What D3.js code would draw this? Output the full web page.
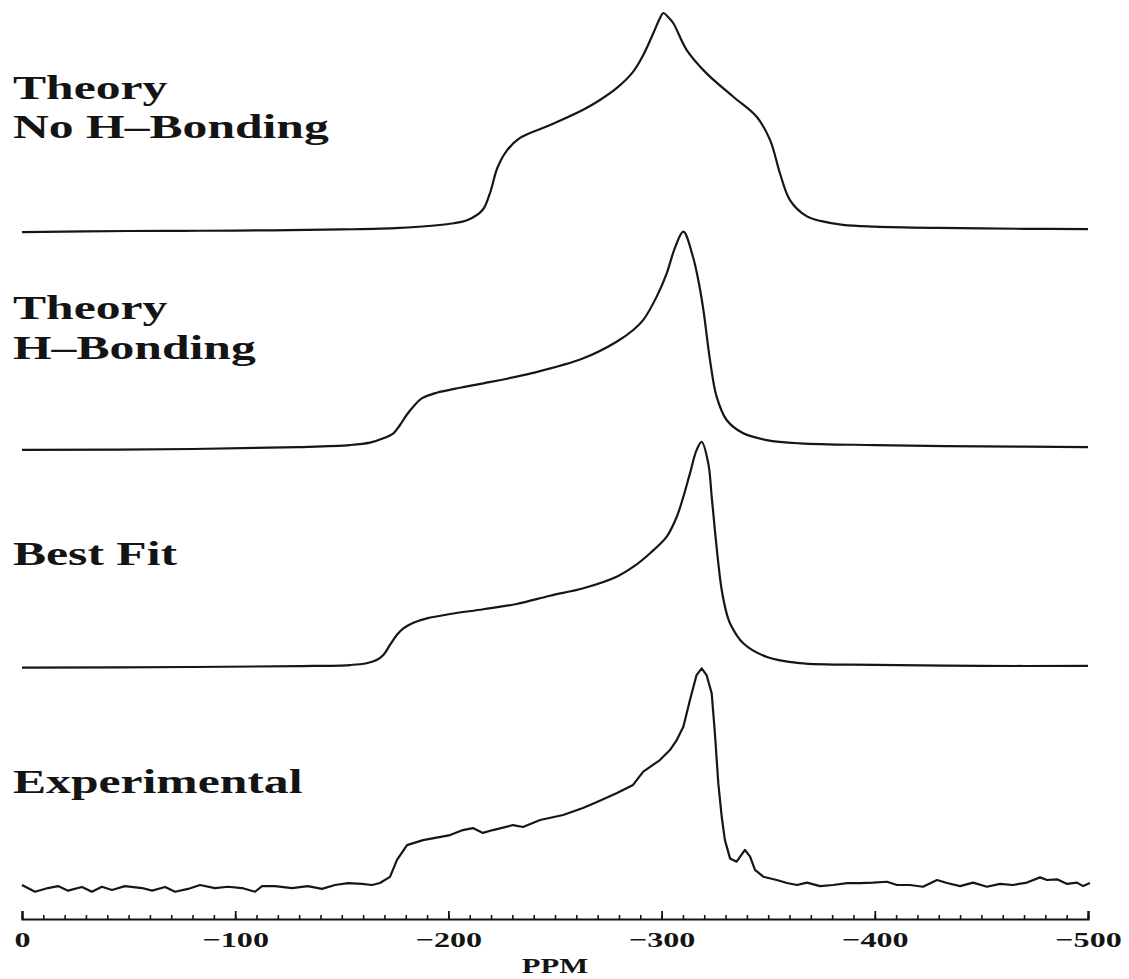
<!DOCTYPE html>
<html>
<head>
<meta charset="utf-8">
<script src="https://cdn.jsdelivr.net/npm/d3@7"></script>
<style>
  html, body { margin: 0; padding: 0; background: #fff; }
  svg { display: block; }
  text { font-family: "Liberation Serif", "Times New Roman", serif; font-weight: bold; fill: #141414; }
</style>
</head>
<body>
<svg id="chart" width="1129" height="979"></svg>
<script>
// spectra: [ppm, intensity], intensity ~100 at peak
const noHBond = [
  [0, -0.5], [-50, 0], [-100, 0.2], [-150, 0.7], [-177, 1.4], [-200, 3.2], [-209, 5],
  [-216, 9.6], [-219.5, 17.4], [-223, 29], [-227.5, 37], [-233.6, 42.7], [-247.7, 48.6],
  [-263, 55.5], [-271.1, 60.1], [-278.9, 65.5], [-286.7, 73.1], [-291.4, 80.7], [-296.1, 90.7],
  [-299.2, 97.6], [-300.8, 100], [-303, 98.2], [-305.5, 95.3], [-311.8, 83], [-321.1, 72.3],
  [-333.6, 61.6], [-344.6, 52.4], [-350.9, 41.7], [-355.5, 26.5], [-360.2, 14.2], [-368, 6.8],
  [-375, 4.5], [-385, 2.8], [-400, 2.0], [-430, 1.4], [-470, 1.0], [-500, 0.9]
]

const hBond = [
  [0, -0.4], [-80, 0], [-130, 0.9], [-153.8, 1.8], [-163.2, 2.9], [-169.5, 4.9], [-174.2, 7.2],
  [-177.3, 11], [-180.4, 15.6], [-183.5, 19.4], [-187.5, 23.2], [-194.5, 25.8], [-205.4, 28.1],
  [-216.4, 30.1], [-239.7, 34.9], [-263.3, 41.6], [-278.9, 49.2], [-286.7, 54.6], [-291.4, 59.2],
  [-297.7, 69.9], [-302.4, 80.6], [-306.3, 92.4], [-310.2, 99.7], [-314.7, 88.2], [-317.2, 77.5],
  [-319.6, 63.8], [-322.7, 40.8], [-325.8, 24], [-330.5, 13.3], [-338.3, 7.2], [-349.3, 4.1],
  [-364.9, 2.6], [-400, 1.8], [-450, 1.2], [-500, 0.9]
]

const bestFit = [
  [0, -0.3], [-80, 0], [-130, 0.4], [-153.8, 0.9], [-161.6, 1.7], [-166.3, 3.2], [-169.5, 5.5],
  [-172.6, 10.1], [-175.8, 14.7], [-178.9, 17.7], [-183.6, 20.3], [-189.9, 22.3], [-200.8, 24.3],
  [-216.4, 26.5], [-232, 28.9], [-247.7, 32.7], [-263.3, 36.1], [-278.9, 41.4], [-286.8, 46],
  [-294.6, 52.2], [-302.4, 59.8], [-307.1, 68.9], [-310.2, 78.1], [-313.3, 88.8], [-316.4, 99.5],
  [-318.8, 103.3], [-321.9, 93.4], [-323.5, 78.1], [-325, 62.8], [-326.6, 47.6], [-328.2, 35.3],
  [-330.5, 24.6], [-332.1, 20], [-338.3, 10.9], [-349.4, 4.6], [-364.8, 1.8], [-400, 1.0],
  [-450, 0.5], [-500, 0.5]
]

const experimental = [
  [0, 0], [-6.1, -3.1], [-12.2, -1.4], [-16.9, -0.5], [-21.6, -2.6], [-28.1, -0.9], [-32.8, -3.1],
  [-37.5, -0.8], [-42.2, -2.3], [-48.3, -0.5], [-56.3, -1.4], [-61, -2.6], [-67.1, -0.9],
  [-71.8, -3.1], [-77.9, -1.8], [-83.5, 0], [-90.5, -1.4], [-96.6, -0.8], [-103.2, -1.4],
  [-109.3, -3.1], [-112.6, -0.5], [-118.7, -0.5], [-126.6, -1.4], [-134.1, -0.5], [-140.7, -1.8],
  [-146.8, 0], [-152.9, 0.9], [-159.5, 0.5], [-164.2, 0], [-167.9, 0.9], [-172.6, 3.7],
  [-175.9, 11.5], [-180.6, 18.3], [-188.1, 20.6], [-200.8, 22.9], [-206.8, 25.2], [-211.5, 26.1],
  [-216.2, 23.9], [-220.9, 25.2], [-230.3, 27.5], [-235, 26.6], [-243, 29.8], [-253.8, 32.1],
  [-263.1, 35.3], [-269.7, 38.1], [-279.1, 42.2], [-286.6, 45.9], [-291.4, 52], [-299.2, 57.3],
  [-303.9, 61.9], [-307.1, 66.5], [-310.2, 72.6], [-313.3, 84.9], [-316.4, 96.3], [-318.8, 99.4],
  [-321.1, 96.3], [-323.5, 87.9], [-325, 69.6], [-326.6, 46.6], [-328.2, 31.3], [-329.7, 20.6],
  [-332.1, 12.2], [-335.2, 10.7], [-339.1, 16.1], [-341.5, 13], [-343.8, 6.9], [-347.7, 3.8],
  [-354, 2.3], [-358.8, 0.9], [-363.5, 0], [-368.2, 1.1],
  [-374.3, -0.5], [-380.4, 0], [-387, 0.9], [-393.1, 0.9], [-399.2, 1.1], [-405.7, 1.5],
  [-410.4, 0], [-416.5, 0], [-422.6, -0.8], [-429.2, 2.3], [-433.9, 0.9], [-440, -0.5],
  [-446.1, 1.1], [-452.6, -0.8], [-458.7, 0.5], [-464.8, 0], [-471.4, 1.1], [-477.5, 3.5],
  [-480.8, 2.3], [-485.5, 2.6], [-490.2, 0.5], [-494.8, 1.1], [-497.7, -0.5], [-500.9, 0.9]
]

// stacking order, bottom to top
const traceNames = ["Experimental", "Best Fit", "Theory H-Bonding", "Theory No H-Bonding"]
const traceOffsets = [0, 100, 200, 300]
const traceData = [experimental, bestFit, hBond, noHBond]

const labelLines = [["Experimental"], ["Best Fit"], ["Theory", "H\u2013Bonding"], ["Theory", "No H\u2013Bonding"]]

const majorTicks = [0, -100, -200, -300, -400, -500]
const axisTitle = "PPM"

const svg = d3.select("#chart")
const stretch = 1.46  // the scanned figure is stretched sideways

const x = d3.scaleLinear().domain([0, -500]).range([22, 1088])
const y = d3.scaleLinear().domain([0, 400]).range([885, 13])

const line = d3.line()
  .x(d => x(d[0]))
  .y(d => y(d[1] + d[2]))

traceData.forEach((data, i) => {
  const pts = data.map(d => [d[0], d[1], traceOffsets[i]])
  svg.append("path")
    .datum(pts)
    .attr("fill", "none")
    .attr("stroke", "#161616")
    .attr("stroke-width", 2.2)
    .attr("stroke-linejoin", "round")
    .attr("d", line.curve(i === 0 ? d3.curveLinear : d3.curveCatmullRom.alpha(0.5)))
})

// labels, baselines per line
const labelPos = [[793], [565], [319, 359], [99, 138]]
labelLines.forEach((lines, i) => {
  lines.forEach((t, j) => {
    svg.append("text")
      .attr("transform", `translate(13,${labelPos[i][j]}) scale(${stretch},1)`)
      .attr("font-size", 34)
      .text(t)
  })
})

// axis
const axisY = 919
const minor = svg.append("g")
  .attr("transform", `translate(0,${axisY})`)
  .call(d3.axisBottom(x).tickValues(d3.range(0, -501, -10)).tickSize(-4).tickFormat(""))
minor.select(".domain").remove()
minor.selectAll("line").attr("stroke", "#141414").attr("stroke-width", 1.6)

const major = svg.append("g")
  .attr("transform", `translate(0,${axisY})`)
  .call(d3.axisBottom(x).tickValues(majorTicks).tickSize(-8).tickPadding(12))
major.select(".domain").attr("stroke", "#141414").attr("stroke-width", 2.2)
major.selectAll("line").attr("stroke", "#141414").attr("stroke-width", 1.8)
major.selectAll("text")
  .attr("font-size", 22)
  .attr("font-family", null)
  .attr("fill", "#141414")
  .attr("transform", `scale(${stretch},1)`)

svg.append("text")
  .attr("transform", `translate(${(x(0) + x(-500)) / 2},973) scale(${stretch},1)`)
  .attr("text-anchor", "middle")
  .attr("font-size", 21)
  .text(axisTitle)
</script>
</body>
</html>
